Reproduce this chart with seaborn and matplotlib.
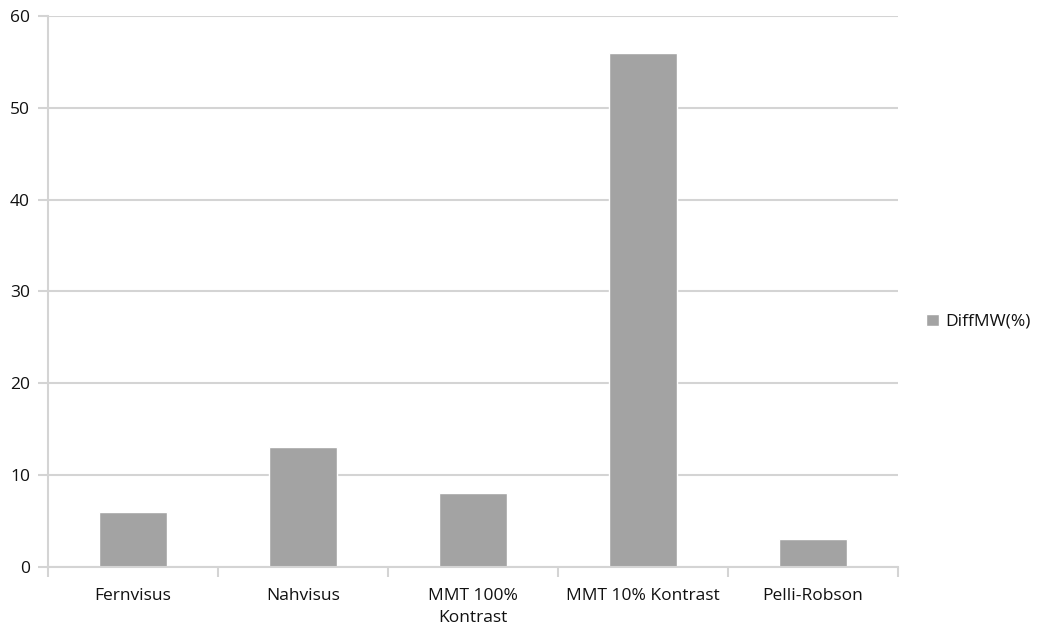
import matplotlib
matplotlib.use("Agg")
import matplotlib.pyplot as plt
import seaborn as sns
import pandas as pd

categories = ["Fernvisus", "Nahvisus", "MMT 100%\nKontrast", "MMT 10% Kontrast", "Pelli-Robson"]
diff_mw = [6, 13, 8, 56, 3]
series_label = "DiffMW(%)"
y_ticks = [0, 10, 20, 30, 40, 50, 60]

sns.set_theme(style="white")
plt.rcParams["font.family"] = ["Open Sans", "DejaVu Sans"]

df = pd.DataFrame({"Test": categories, "Value": diff_mw})

fig = plt.figure(figsize=(10.42, 6.33), dpi=100)
ax = fig.add_axes([0.0461, 0.1047, 0.8157, 0.870])

sns.barplot(data=df, x="Test", y="Value", color="#a3a3a3", width=0.4,
            saturation=1, label=series_label, ax=ax, errorbar=None)

grid_c = "#d4d4d4"
ax.set_ylim(0, 60)
ax.set_yticks(y_ticks)
ax.set_xlim(-0.5, len(categories) - 0.5)
ax.yaxis.grid(True, color=grid_c, linewidth=1.5)
ax.set_axisbelow(True)

# category labels centred under bars, tick marks on category boundaries
ax.set_xticks(range(len(categories)))
ax.set_xticklabels(categories, fontsize=12.5, color="#111111", va="top", linespacing=1.55)
ax.tick_params(axis="x", length=0, pad=15)
ax.set_xticks([i - 0.5 for i in range(len(categories) + 1)], minor=True)
ax.tick_params(axis="x", which="minor", length=7, width=1.5, color=grid_c, direction="out", bottom=True)
ax.tick_params(axis="y", length=7, width=1.5, color=grid_c, direction="out", left=True,
               labelsize=12.5, labelcolor="#111111", pad=6)

for side in ["top", "right"]:
    ax.spines[side].set_visible(False)
for side in ["left", "bottom"]:
    ax.spines[side].set_color(grid_c)
    ax.spines[side].set_linewidth(1.5)

ax.set_xlabel("")
ax.set_ylabel("")

leg = ax.legend(loc="center left", bbox_to_anchor=(1.015, 0.445), frameon=False,
                fontsize=12.5, handlelength=0.7, handleheight=0.7, handletextpad=0.4)
for t in leg.get_texts():
    t.set_color("#111111")

fig.savefig("out.png", dpi=100)
